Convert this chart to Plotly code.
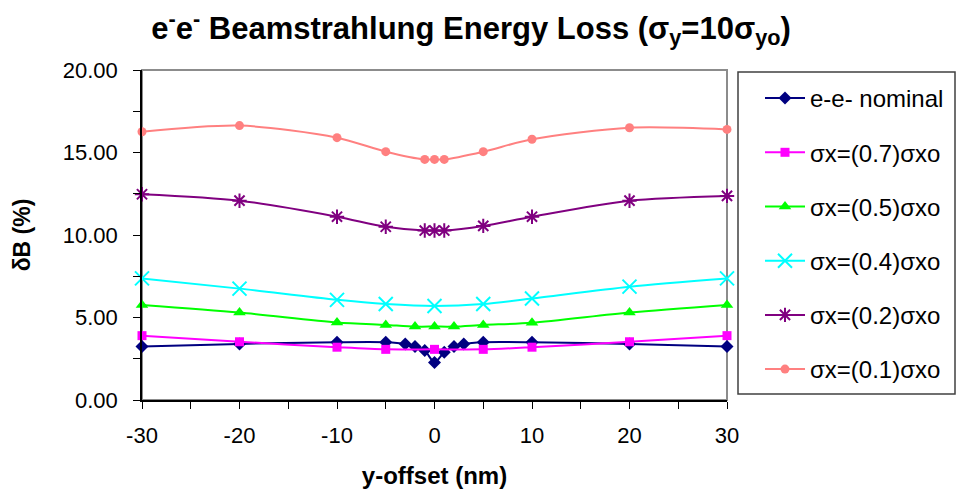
import plotly.graph_objects as go

# ---- data ----
x_nom = [-30, -20, -10, -5, -3, -2, -1, 0, 1, 2, 3, 5, 10, 20, 30]
y_nom = [3.25, 3.4, 3.5, 3.5, 3.4, 3.25, 3.0, 2.28, 2.9, 3.25, 3.4, 3.5, 3.5, 3.4, 3.25]

x_07 = [-30, -20, -10, -5, 0, 5, 10, 20, 30]
y_07 = [3.9, 3.53, 3.2, 3.07, 3.07, 3.07, 3.2, 3.53, 3.9]

x_05 = [-30, -20, -10, -5, -2, 0, 2, 5, 10, 20, 30]
y_05 = [5.76, 5.3, 4.7, 4.55, 4.45, 4.45, 4.45, 4.55, 4.68, 5.3, 5.76]

x_04 = [-30, -20, -10, -5, 0, 5, 10, 20, 30]
y_04 = [7.37, 6.75, 6.07, 5.82, 5.7, 5.82, 6.15, 6.87, 7.37]

x_02 = [-30, -20, -10, -5, -1, 0, 1, 5, 10, 20, 30]
y_02 = [12.47, 12.08, 11.11, 10.5, 10.27, 10.27, 10.27, 10.55, 11.11, 12.08, 12.37]

x_01 = [-30, -20, -10, -5, -1, 0, 1, 5, 10, 20, 30]
y_01 = [16.26, 16.63, 15.9, 15.05, 14.58, 14.58, 14.58, 15.05, 15.8, 16.5, 16.4]

names = ["e-e- nominal", "σx=(0.7)σxo", "σx=(0.5)σxo", "σx=(0.4)σxo", "σx=(0.2)σxo", "σx=(0.1)σxo"]

x_tickvals = [-30, -20, -10, 0, 10, 20, 30]
x_ticktext = ["-30", "-20", "-10", "0", "10", "20", "30"]
y_tickvals = [0, 5, 10, 15, 20]

colors = ["#000080", "#FF00FF", "#00FF00", "#00FFFF", "#800080", "#FF8080"]
symbols = ["diamond", "square", "triangle-up", "x-thin-open", "asterisk-open", "circle"]
msizes = [10, 9, 11, 14, 12, 9]

series = [(x_nom, y_nom), (x_07, y_07), (x_05, y_05), (x_04, y_04), (x_02, y_02), (x_01, y_01)]

FONT = "Arial, Liberation Sans, sans-serif"

fig = go.Figure()
for i, ((xs, ys), nm) in enumerate(zip(series, names)):
    fig.add_trace(go.Scatter(
        x=xs, y=ys, name=nm, mode="lines+markers",
        line=dict(color=colors[i], width=2, shape="spline", smoothing=0.8),
        marker=dict(symbol=symbols[i], size=msizes[i], color=colors[i],
                    line=dict(color=colors[i], width=2 if "open" in symbols[i] else 0)),
        legendgroup=f"g{i}", cliponaxis=False,
    ))

# plot-area frame (grey) and legend box
fig.add_shape(type="rect", xref="paper", yref="paper", x0=0, x1=1, y0=0, y1=1,
              line=dict(color="#8C8C8C", width=2), layer="below")
fig.add_shape(type="rect", xref="paper", yref="paper",
              x0=(738 - 142) / 585, x1=(955 - 142) / 585,
              y0=(400 - 394) / 330, y1=(400 - 72) / 330,
              line=dict(color="#404040", width=1.5))

fig.update_layout(
    width=956, height=499,
    margin=dict(l=142, r=229, t=70, b=99, autoexpand=False),
    paper_bgcolor="white", plot_bgcolor="white",
    font=dict(family=FONT, color="black", size=20),
    title=dict(text="e<sup>-</sup>e<sup>-</sup> Beamstrahlung Energy Loss (σ<sub>y</sub>=10σ<sub>yo</sub>)",
               font=dict(family=FONT, size=31, color="black", weight="bold"),
               x=471 / 956, xanchor="center", y=1 - 28 / 499, yanchor="middle"),
    showlegend=True,
    legend=dict(x=(760 - 142) / 585, y=(400 - 76) / 330, xanchor="left", yanchor="top",
                bgcolor="rgba(0,0,0,0)", borderwidth=0,
                font=dict(family=FONT, size=24, color="black"),
                tracegroupgap=20, itemwidth=40),
    xaxis=dict(range=[-30, 30], tickvals=x_tickvals, ticktext=x_ticktext,
               ticks="outside", ticklen=7, tickwidth=1, tickcolor="black", ticklabelstandoff=8,
               minor=dict(tickvals=[-25, -15, -5, 5, 15, 25], ticks="outside", ticklen=7, tickcolor="black"),
               showline=True, linecolor="black", linewidth=1.5, showgrid=False, zeroline=False,
               tickfont=dict(family=FONT, size=22, color="black"),
               title=dict(text="<b>y-offset (nm)</b>", font=dict(family=FONT, size=24, color="black"), standoff=20)),
    yaxis=dict(range=[0, 20], tickvals=y_tickvals, tickformat=".2f",
               ticks="outside", ticklen=7, tickwidth=1, tickcolor="black", ticklabelstandoff=11,
               minor=dict(tickvals=[2.5, 7.5, 12.5, 17.5], ticks="outside", ticklen=7, tickcolor="black"),
               showline=True, linecolor="black", linewidth=1.5, showgrid=False, zeroline=False,
               tickfont=dict(family=FONT, size=22, color="black"),
               title=dict(text="<b>δB (%)</b>", font=dict(family=FONT, size=23, color="black"), standoff=26)),
)

fig.write_html("out.html", config={"displayModeBar": False},
               post_script="document.body.style.margin='0px';")
